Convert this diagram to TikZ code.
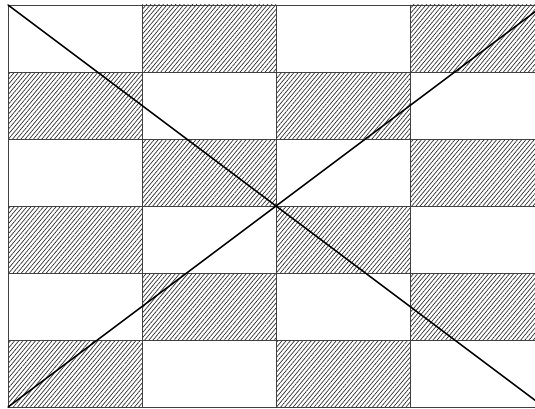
\documentclass[tikz,border=0pt]{standalone}
\usetikzlibrary{patterns.meta}
\tikzset{
  hatched/.style={pattern={Lines[angle=50,distance=3.2pt,line width=0.65pt]},pattern color=black!85},
  gridline/.style={draw=black!75,line width=0.7pt},
  diagonal/.style={line width=1.5pt,line cap=round}
}
\begin{document}
\begin{tikzpicture}[x=1pt,y=1pt]

    % -- Frame of the picture --
    \useasboundingbox (0,0) rectangle (535,408);
    \clip (0,0) rectangle (535,408);

    \def\xzero{8}     % left edge of the board
    \def\ytop{403}    % top edge of the board
    \def\cellw{134}   % width of one cell
    \def\cellh{67}    % height of one cell

    % -- Hatched cells (checkerboard) --
    \foreach \row in {0,...,5} {
      \pgfmathtruncatemacro{\off}{1-mod(\row,2)}
      \foreach \col in {\off,\the\numexpr\off+2\relax} {
        \fill[hatched] (\xzero+\col*\cellw,\ytop-\row*\cellh) rectangle ++(\cellw,-\cellh);
      }
    }

    % -- Cell borders --
    \foreach \row in {0,...,5} {
      \foreach \col in {0,...,3} {
        \draw[gridline] (\xzero+\col*\cellw,\ytop-\row*\cellh) rectangle ++(\cellw,-\cellh);
      }
    }

    % -- Corners of the board --
    \coordinate (tl) at (\xzero,\ytop);
    \coordinate (tr) at (\xzero+4*\cellw,\ytop);
    \coordinate (bl) at (\xzero,\ytop-6*\cellh);
    \coordinate (br) at (\xzero+4*\cellw,\ytop-6*\cellh);

    % -- The two diagonals --
    \draw[diagonal] (tl) -- (br);
    \draw[diagonal] (bl) -- (tr);

\end{tikzpicture}
\end{document}
